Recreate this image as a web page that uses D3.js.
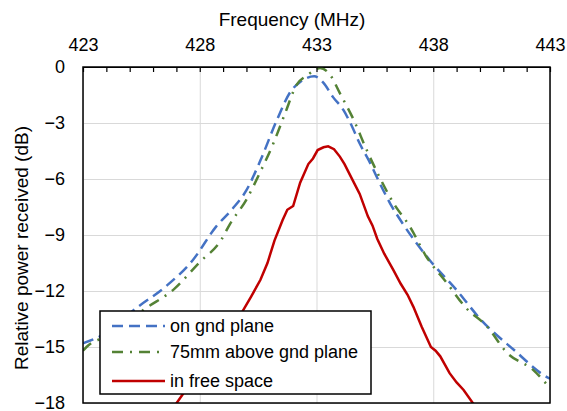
<!DOCTYPE html>
<html>
<head>
<meta charset="utf-8">
<script src="https://cdn.jsdelivr.net/npm/d3@7"></script>
<style>
  body { margin: 0; background: #fff; }
  text { font-family: "Liberation Sans", Arial, sans-serif; fill: #000; }
  .grid line { stroke: #d9d9d9; stroke-width: 1; }
  .axis path { display: none; }
</style>
</head>
<body>
<div class="chart"></div>
<script>
// x tick labels (MHz) and y ticks (dB)
var freqTicks = [423, 428, 433, 438, 443];
var dbTicks = [0, -3, -6, -9, -12, -15, -18];

// on gnd plane
var freqOnGnd = [423, 423.85, 425.3, 426.6, 427.7, 428.7, 429.4, 430.0, 430.6, 431.3, 431.9, 432.3, 432.9, 433.3, 433.7, 434.15, 434.45, 434.85, 435.3, 435.7, 436.15, 436.7, 437.85, 439.0, 440.05, 441.45, 442.85, 443];
var dbOnGnd = [-14.8, -14.35, -12.9, -11.7, -10.35, -8.55, -7.6, -6.6, -5.0, -2.85, -1.3, -0.8, -0.5, -0.85, -1.6, -2.3, -3.0, -4.1, -5.15, -6.2, -7.3, -8.4, -10.35, -11.95, -13.55, -15.15, -16.6, -16.7];

// 75mm above gnd plane
var freq75mm = [423, 423.15, 424.3, 425.6, 426.9, 428.0, 428.9, 429.3, 430.0, 430.6, 431.15, 431.65, 432.15, 432.6, 432.95, 433.15, 433.6, 434.0, 434.6, 435.15, 435.7, 436.3, 437.0, 437.7, 438.6, 439.4, 440.3, 441.15, 442.3, 443];
var db75mm = [-15.2, -15.0, -14.3, -13.0, -11.9, -10.45, -9.3, -8.4, -7.1, -5.6, -4.1, -2.5, -0.95, -0.45, -0.15, -0.05, -0.45, -1.4, -2.85, -4.45, -5.9, -7.3, -8.55, -10.15, -11.6, -12.9, -13.9, -15.3, -16.25, -17.2];

// in free space
var freqFree = [426.9, 427.4, 428.0, 428.6, 429.2, 429.85, 430.2, 430.6, 430.9, 431.2, 431.55, 431.75, 432.0, 432.3, 432.65, 432.85, 433.05, 433.3, 433.5, 433.75, 434.0, 434.2, 434.4, 434.85, 435.2, 435.4, 435.6, 435.9, 436.3, 436.6, 436.9, 437.15, 437.5, 437.9, 438.1, 438.3, 438.7, 439.0, 439.3, 439.75];
var dbFree = [-18.2, -17.3, -16.3, -15.3, -14.2, -13.05, -12.3, -11.4, -10.5, -9.3, -8.2, -7.65, -7.45, -6.2, -5.2, -4.9, -4.45, -4.3, -4.25, -4.4, -4.8, -5.2, -5.7, -6.8, -8.0, -8.5, -9.2, -10.0, -10.9, -11.6, -12.2, -12.85, -13.9, -15.0, -15.2, -15.5, -16.4, -16.9, -17.3, -18.1];

var seriesNames = ['on gnd plane', '75mm above gnd plane', 'in free space'];

var margin = { top: 67, right: 17, bottom: 8, left: 83 };
var width = 567 - margin.left - margin.right;
var height = 411 - margin.top - margin.bottom;

var xScale = d3.scaleLinear().domain([423, 443]).range([0, width]);
var yScale = d3.scaleLinear().domain([0, -18]).range([0, height]);

var svg = d3.select('.chart').append('svg')
    .attr('width', 567)
    .attr('height', 411);

var g = svg.append('g')
    .attr('transform', 'translate(' + margin.left + ',' + margin.top + ')');

g.append('clipPath').attr('id', 'plot-clip')
  .append('rect').attr('width', width).attr('height', height);

// gridlines
g.append('g')
    .attr('class', 'grid')
    .call(d3.axisLeft(yScale).tickValues(dbTicks).tickSize(-width).tickFormat(''));
g.append('g')
    .attr('class', 'grid')
    .call(d3.axisTop(xScale).tickValues(freqTicks).tickSize(-height).tickFormat(''));

// series
var data = [
  { name: seriesNames[0], x: freqOnGnd, y: dbOnGnd, color: '#4472c4', dash: '11,6' },
  { name: seriesNames[1], x: freq75mm, y: db75mm, color: '#548235', dash: '11,7,2,7' },
  { name: seriesNames[2], x: freqFree, y: dbFree, color: '#c00000', dash: null }
];

var line = d3.line()
    .x(function(d) { return xScale(d[0]); })
    .y(function(d) { return yScale(d[1]); });

data.forEach(function(s, i) {
  var pts = s.x.map(function(f, j) { return [f, s.y[j]]; });
  g.append('path')
      .datum(pts)
      .attr('clip-path', 'url(#plot-clip)')
      .attr('fill', 'none')
      .attr('stroke', s.color)
      .attr('stroke-width', 2.5)
      .attr('stroke-dasharray', s.dash)
      .attr('d', line.curve(i < 2 ? d3.curveMonotoneX : d3.curveLinear));
});

// frame
g.append('rect')
    .attr('width', width)
    .attr('height', height)
    .attr('fill', 'none')
    .attr('stroke', '#000')
    .attr('stroke-width', 1.5);

// minor ticks on top, pointing in
g.append('g')
    .attr('class', 'axis')
    .call(d3.axisTop(xScale).tickValues(d3.range(423, 444, 1)).tickSize(-5).tickFormat(''))
    .selectAll('line').attr('stroke', '#000').attr('stroke-width', 1.2);

// x labels
g.append('g')
    .attr('class', 'axis')
    .call(d3.axisTop(xScale).tickValues(freqTicks).tickSize(0).tickPadding(16))
    .selectAll('text').style('font-size', '18px').style('font-family', '"Liberation Sans", Arial, sans-serif');

// y labels
g.append('g')
    .attr('class', 'axis')
    .call(d3.axisLeft(yScale).tickValues(dbTicks).tickSize(0).tickPadding(18))
    .selectAll('text').style('font-size', '18px').style('font-family', '"Liberation Sans", Arial, sans-serif');

// axis titles
svg.append('text')
    .attr('x', 292)
    .attr('y', 26)
    .attr('text-anchor', 'middle')
    .style('font-size', '19px')
    .text('Frequency (MHz)');

svg.append('text')
    .attr('transform', 'translate(28,248) rotate(-90)')
    .attr('text-anchor', 'middle')
    .style('font-size', '19px')
    .text('Relative power received (dB)');

// legend
var legend = svg.append('g').attr('transform', 'translate(100,311)');
legend.append('rect')
    .attr('width', 271)
    .attr('height', 83)
    .attr('fill', '#fff')
    .attr('stroke', '#000')
    .attr('stroke-width', 1.5);

var rowY = [15, 41, 70];
data.forEach(function(s, i) {
  legend.append('line')
      .attr('x1', 12).attr('x2', 65)
      .attr('y1', rowY[i]).attr('y2', rowY[i])
      .attr('stroke', s.color)
      .attr('stroke-width', 2.5)
      .attr('stroke-dasharray', s.dash);
  legend.append('text')
      .attr('x', 70)
      .attr('y', rowY[i])
      .attr('dy', '0.35em')
      .style('font-size', '18px')
      .text(s.name);
});
</script>
</body>
</html>
